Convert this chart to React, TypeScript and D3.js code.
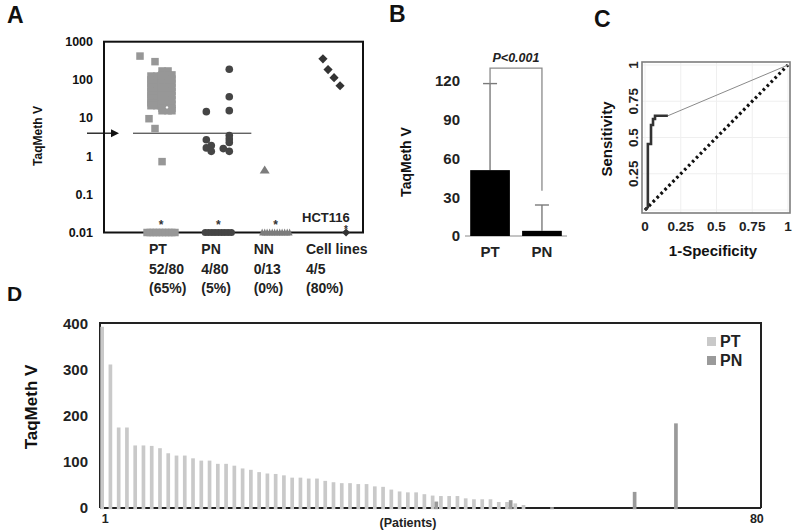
import React from 'react';
import * as d3 from 'd3';

const FONT = 'Liberation Sans, Arial, Helvetica, sans-serif';

// ---------- Panel A data ----------
const groupsA = ['PT', 'PN', 'NN', 'Cell lines'];
const groupCounts = ['52/80', '4/80', '0/13', '4/5'];
const groupPct = ['(65%)', '(5%)', '(0%)', '(80%)'];
const logTicksA = [0.01, 0.1, 1, 10, 100, 1000];
const thresholdA = 4;
const floorA = 0.01;

// PT (squares): value + jitter column
const ptValuesA = [420, 300, 9.6, 5.3, 0.72,
  126, 100, 80, 64, 50, 40, 32, 25, 21,
  126, 100, 80, 64, 50, 40, 32, 25, 21,
  126, 100, 80, 64, 50, 40, 32, 25, 21,
  171, 135, 105, 82, 64, 50, 39, 30, 23, 18, 15.5,
  171, 135, 105, 82, 64, 50, 39, 30, 23, 18, 15.5,
  135, 105, 82, 64, 50, 39, 30, 23, 18, 15.5];
const ptJitterA = [-1.4, -0.4, -0.8, -0.4, 0.07,
  -0.67, -0.67, -0.67, -0.67, -0.67, -0.67, -0.67, -0.67, -0.67,
  -0.27, -0.27, -0.27, -0.27, -0.27, -0.27, -0.27, -0.27, -0.27,
  0, 0, 0, 0, 0, 0, 0, 0, 0,
  0.07, 0.07, 0.07, 0.07, 0.07, 0.07, 0.07, 0.07, 0.07, 0.07, 0.07,
  0.47, 0.47, 0.47, 0.47, 0.47, 0.47, 0.47, 0.47, 0.47, 0.47, 0.47,
  0.73, 0.73, 0.73, 0.73, 0.73, 0.73, 0.73, 0.73, 0.73, 0.73];
const ptFloorJitter = [-0.93, -0.72, -0.52, -0.31, -0.1, 0.1, 0.31, 0.52, 0.72, 0.93];

// PN (circles)
const pnValuesA = [190, 36, 15.6, 14.7, 2.7, 1.65, 1.9, 1.34, 1.58, 1.34, 3.46, 2.8, 2.3];
const pnJitterA = [0.73, 0.73, 0.73, -0.8, -0.8, -0.8, -0.47, -0.47, 0.33, 0.73, 0.73, 0.73, 0.73];
const pnFloorJitter = [-0.87, -0.65, -0.43, -0.22, 0, 0.22, 0.43, 0.65, 0.87];

// NN (triangles)
const nnValuesA = [0.45];
const nnJitterA = [-0.73];
const nnFloorJitter = [-0.9, -0.73, -0.57, -0.4, -0.23, -0.07, 0.1, 0.27, 0.43, 0.6, 0.77, 0.93];

// Cell lines (diamonds)
const cellValuesA = [356, 186, 114, 70];
const cellJitterA = [-0.67, -0.33, 0.07, 0.47];
const cellFloorJitter = [0.87];

// ---------- Panel B data ----------
const groupsB = ['PT', 'PN'];
const meansB = [51, 4];
const errTopB = [118, 24];
const ticksB = [0, 30, 60, 90, 120];
const bracketTopB = 130;
const bracketRightEndB = 35;

// ---------- Panel C data ----------
const rocFpr = [0, 0.02, 0.02, 0.042, 0.042, 0.056, 0.056, 0.07, 0.07, 0.16];
const rocTpr = [0, 0.02, 0.455, 0.455, 0.586, 0.586, 0.628, 0.628, 0.65, 0.65];
const rocEnd = [1, 1];
const ticksC = [0, 0.25, 0.5, 0.75, 1];

// ---------- Panel D data ----------
const ptValuesD = [394, 312, 175, 175, 136, 136, 135, 130, 119, 114, 114, 108, 103, 103, 96, 96, 92, 86, 83, 78,
  75, 74, 71, 66, 66, 64, 64, 59, 56, 54, 54, 52, 52, 47, 46, 40, 36, 34, 34, 30,
  27, 26, 26, 26, 21, 19, 19, 19, 13, 13, 10, 6.5];
const pnPatientsD = [41, 50, 55, 65, 70];
const pnValuesD = [14, 17, 2, 35, 184];
const ticksD = [0, 100, 200, 300, 400];
const nPatients = 80;

const C_PT_A = '#979797';
const C_PN_A = '#454545';
const C_NN_A = '#7c7c7c';
const C_CELL_A = '#333333';
const C_PT_D = '#c9c9c9';
const C_PN_D = '#9a9a9a';

export default function App() {
  // Panel A scales
  const yA = d3.scaleLog().domain([0.01, 1000]).range([232.5, 41.7]);
  const xA = d3.scalePoint<string>().domain(groupsA).range([161, 333]);
  const jit = d3.scaleLinear().domain([-1, 1]).range([-15, 15]);
  const labelX = d3.scalePoint<string>().domain(groupsA).range([149, 306]);
  const sq = 7.5;

  const tri = (cx: number, cy: number, w: number, h: number) =>
    `M${cx - w / 2},${cy + h / 2}L${cx},${cy - h / 2}L${cx + w / 2},${cy + h / 2}Z`;
  const dia = (cx: number, cy: number, r: number) =>
    `M${cx},${cy - r}L${cx + r},${cy}L${cx},${cy + r}L${cx - r},${cy}Z`;

  // Panel B scales
  const xB = d3.scaleBand<string>().domain(groupsB).range([465, 567]).paddingInner(0.235).paddingOuter(0.1);
  const yB = d3.scaleLinear().domain([0, 120]).range([236, 81]);
  const cB = (g: string) => (xB(g) as number) + xB.bandwidth() / 2;

  // Panel C scales
  const xC = d3.scaleLinear().domain([0, 1]).range([645, 788]);
  const yC = d3.scaleLinear().domain([0, 1]).range([210, 65]);
  const rocPts: [number, number][] = rocFpr.map((f, i) => [f, rocTpr[i]]);
  const rocLine = d3.line<[number, number]>().x(d => xC(d[0])).y(d => yC(d[1]));

  // Panel D scales
  const patients = d3.range(1, nPatients + 1);
  const xD = d3.scaleBand<number>().domain(patients).range([100, 761]);
  const xSub = d3.scaleBand<string>().domain(['PT', 'PN']).range([0.3, xD.bandwidth() - 0.6]);
  const yD = d3.scaleLinear().domain([0, 400]).range([508, 324]);

  const bold = { fontFamily: FONT, fontWeight: 700 } as const;

  return (
    <svg width={800} height={532} style={{ position: 'absolute', left: 0, top: 0, background: '#fff' }}>
      <rect x={0} y={0} width={800} height={532} fill="#fff" />

      {/* Panel letters */}
      <text x={7} y={23} fontSize={23} {...bold} fill="#111">A</text>
      <text x={389} y={22} fontSize={23} {...bold} fill="#111">B</text>
      <text x={594} y={27} fontSize={23} {...bold} fill="#111">C</text>
      <text x={7} y={301} fontSize={21} {...bold} fill="#111">D</text>

      {/* ================= Panel A ================= */}
      <g>
        <rect x={104} y={yA(1000)} width={259} height={yA(0.01) - yA(1000)} fill="none" stroke="#111" strokeWidth={2} />
        {logTicksA.map(t => (
          <text key={t} x={93} y={yA(t)} dy="0.35em" textAnchor="end" fontSize={12.5} {...bold} fill="#111">{String(t)}</text>
        ))}
        <text transform={`translate(42,136) rotate(-90)`} textAnchor="middle" fontSize={12} {...bold} fill="#111">TaqMeth V</text>

        {/* threshold line + arrow */}
        <line x1={xA('PT')! - 28} x2={xA('PN')! + 33} y1={yA(thresholdA)} y2={yA(thresholdA)} stroke="#222" strokeWidth={1} />
        <line x1={87} x2={112} y1={yA(thresholdA)} y2={yA(thresholdA)} stroke="#111" strokeWidth={1.3} />
        <path d={`M${119},${yA(thresholdA)}L${111},${yA(thresholdA) - 4}L${111},${yA(thresholdA) + 4}Z`} fill="#111" />

        {/* PT squares */}
        {ptValuesA.map((v, i) => (
          <rect key={'pt' + i} x={xA('PT')! + jit(ptJitterA[i]) - sq / 2} y={yA(v) - sq / 2} width={sq} height={sq} fill={C_PT_A} />
        ))}
        {ptFloorJitter.map((j, i) => (
          <rect key={'ptf' + i} x={xA('PT')! + jit(j) - sq / 2} y={yA(floorA) - sq / 2} width={sq} height={sq} fill={C_PT_A} />
        ))}
        <circle cx={167} cy={yA(19)} r={1.2} fill="#fff" />

        {/* PN circles */}
        {pnValuesA.map((v, i) => (
          <circle key={'pn' + i} cx={xA('PN')! + jit(pnJitterA[i])} cy={yA(v)} r={3.8} fill={C_PN_A} />
        ))}
        {pnFloorJitter.map((j, i) => (
          <circle key={'pnf' + i} cx={xA('PN')! + jit(j)} cy={yA(floorA)} r={3.6} fill={C_PN_A} />
        ))}

        {/* NN triangles */}
        {nnValuesA.map((v, i) => (
          <path key={'nn' + i} d={tri(xA('NN')! + jit(nnJitterA[i]), yA(v), 10, 8)} fill={C_NN_A} />
        ))}
        {nnFloorJitter.map((j, i) => (
          <path key={'nnf' + i} d={tri(xA('NN')! + jit(j), yA(floorA) - 0.5, 6, 7)} fill={C_NN_A} />
        ))}

        {/* Cell line diamonds */}
        {cellValuesA.map((v, i) => (
          <path key={'cl' + i} d={dia(xA('Cell lines')! + jit(cellJitterA[i]), yA(v), 4.6)} fill={C_CELL_A} />
        ))}
        {cellFloorJitter.map((j, i) => (
          <path key={'clf' + i} d={dia(xA('Cell lines')! + jit(j), yA(floorA), 4)} fill={C_CELL_A} />
        ))}

        {/* stars */}
        {['PT', 'PN', 'NN'].map(g => (
          <text key={'st' + g} x={xA(g)!} y={229} textAnchor="middle" fontSize={12} {...bold} fill="#333">*</text>
        ))}
        <text x={xA('Cell lines')! + jit(cellFloorJitter[0])} y={232.5} textAnchor="middle" fontSize={10} {...bold} fill="#333">*</text>
        <text x={302} y={222} fontSize={13} {...bold} fill="#222">HCT116</text>

        {/* group labels */}
        {groupsA.map((g, i) => (
          <g key={'lab' + g}>
            <text x={labelX(g)!} y={254} fontSize={14} {...bold} fill="#222">{g}</text>
            <text x={labelX(g)!} y={273.5} fontSize={14} {...bold} fill="#222">{groupCounts[i]}</text>
            <text x={labelX(g)!} y={292.5} fontSize={14} {...bold} fill="#222">{groupPct[i]}</text>
          </g>
        ))}
      </g>

      {/* ================= Panel B ================= */}
      <g>
        <line x1={465} x2={567} y1={yB(0)} y2={yB(0)} stroke="#8a8a8a" strokeWidth={1} />
        {ticksB.map(t => (
          <text key={t} x={460} y={yB(t)} dy="0.35em" textAnchor="end" fontSize={15} {...bold} fill="#222">{t}</text>
        ))}
        <text transform={`translate(411,162) rotate(-90)`} textAnchor="middle" fontSize={14} {...bold} fill="#111">TaqMeth V</text>
        {groupsB.map((g, i) => (
          <g key={g}>
            <line x1={cB(g)} x2={cB(g)} y1={yB(meansB[i])} y2={yB(errTopB[i])} stroke="#7a7a7a" strokeWidth={1.4} />
            <line x1={cB(g) - 7} x2={cB(g) + 7} y1={yB(errTopB[i])} y2={yB(errTopB[i])} stroke="#7a7a7a" strokeWidth={1.4} />
            <rect x={xB(g)} y={yB(meansB[i])} width={xB.bandwidth()} height={yB(0) - yB(meansB[i])} fill="#000" />
            <text x={cB(g)} y={257} textAnchor="middle" fontSize={15} {...bold} fill="#222">{g}</text>
          </g>
        ))}
        <path d={`M${cB('PT')},${yB(errTopB[0])}V${yB(bracketTopB)}H${cB('PN')}V${yB(bracketRightEndB)}`} fill="none" stroke="#8a8a8a" strokeWidth={1.3} />
        <text x={(cB('PT') + cB('PN')) / 2} y={yB(bracketTopB) - 6} textAnchor="middle" fontSize={12.5} fontStyle="italic" {...bold} fill="#222">P&lt;0.001</text>
      </g>

      {/* ================= Panel C ================= */}
      <g>
        {ticksC.map(t => (
          <g key={'g' + t}>
            <line x1={xC(t)} x2={xC(t)} y1={62} y2={213} stroke="#efefef" strokeWidth={1} />
            <line x1={642} x2={790} y1={yC(t)} y2={yC(t)} stroke="#efefef" strokeWidth={1} />
          </g>
        ))}
        <rect x={642} y={62} width={148} height={151} fill="none" stroke="#7d7d7d" strokeWidth={1.6} />
        <line x1={xC(0)} y1={yC(0)} x2={xC(1)} y2={yC(1)} stroke="#111" strokeWidth={3.2} strokeDasharray="2.6,3" />
        <line x1={xC(rocFpr[rocFpr.length - 1])} y1={yC(rocTpr[rocTpr.length - 1])} x2={xC(rocEnd[0])} y2={yC(rocEnd[1])} stroke="#8a8a8a" strokeWidth={1} />
        <path d={rocLine(rocPts)!} fill="none" stroke="#333" strokeWidth={2.6} />
        {ticksC.map(t => (
          <text key={'x' + t} x={xC(t)} y={231} textAnchor="middle" fontSize={13.5} {...bold} fill="#222">{String(t)}</text>
        ))}
        {ticksC.filter(t => t > 0).map(t => (
          <text key={'y' + t} transform={`translate(638,${yC(t)}) rotate(-90)`} textAnchor="middle" fontSize={13.5} {...bold} fill="#222">{String(t)}</text>
        ))}
        <text transform={`translate(612,139) rotate(-90)`} textAnchor="middle" fontSize={15} {...bold} fill="#111">Sensitivity</text>
        <text x={713} y={256} textAnchor="middle" fontSize={15} {...bold} fill="#111">1-Specificity</text>
      </g>

      {/* ================= Panel D ================= */}
      <g>
        <line x1={100} x2={761} y1={yD(0)} y2={yD(0)} stroke="#222" strokeWidth={2} />
        <path d={`M100,${yD(0)}V323H761V${yD(0)}`} fill="none" stroke="#222" strokeWidth={2} />
        {ptValuesD.map((v, i) => {
          const p = i + 1;
          return (
            <rect key={'d' + p} x={(xD(p) as number) + (xSub('PT') as number)} y={yD(v)} width={xSub.bandwidth()} height={yD(0) - yD(v) + 1.2} fill={C_PT_D} />
          );
        })}
        {pnPatientsD.map((p, i) => (
          <rect key={'dn' + p} x={(xD(p) as number) + (xSub('PN') as number)} y={yD(pnValuesD[i])} width={xSub.bandwidth()} height={yD(0) - yD(pnValuesD[i]) + 1.2} fill={C_PN_D} />
        ))}
        {ticksD.map(t => (
          <text key={t} x={88} y={yD(t)} dy="0.35em" textAnchor="end" fontSize={15} {...bold} fill="#222">{t}</text>
        ))}
        <text transform={`translate(37,407) rotate(-90)`} textAnchor="middle" fontSize={17} {...bold} fill="#111">TaqMeth V</text>
        <text x={(xD(1) as number) + xD.bandwidth() / 2 + 1} y={523} textAnchor="middle" fontSize={12.5} {...bold} fill="#222">1</text>
        <text x={(xD(nPatients) as number) + xD.bandwidth() / 2} y={523} textAnchor="middle" fontSize={12.5} {...bold} fill="#222">80</text>
        <text x={408} y={527} textAnchor="middle" fontSize={12.5} {...bold} fill="#222">(Patients)</text>
        {/* legend */}
        <rect x={707} y={337} width={9} height={9} fill={C_PT_D} />
        <text x={720} y={347} fontSize={16} {...bold} fill="#222">PT</text>
        <rect x={707} y={356} width={9} height={9} fill={C_PN_D} />
        <text x={720} y={366} fontSize={16} {...bold} fill="#222">PN</text>
      </g>
    </svg>
  );
}
